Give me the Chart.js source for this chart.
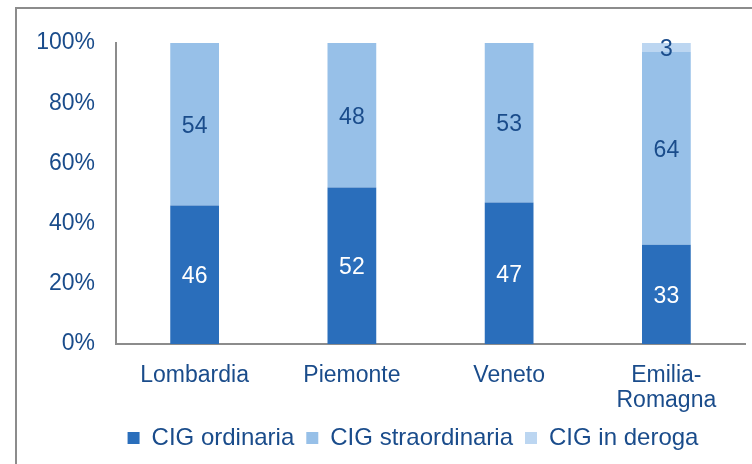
<!DOCTYPE html>
<html>
<head>
<meta charset="utf-8">
<script src="https://cdn.jsdelivr.net/npm/chart.js@4/dist/chart.umd.min.js"></script>
<style>
  html, body { margin: 0; padding: 0; background: #fff; overflow: hidden; width: 752px; height: 464px; }
  #frame { position: absolute; left: 15px; top: 7px; width: 800px; height: 500px;
           border-left: 2px solid #8c8c8c; border-top: 2px solid #8c8c8c; }
  #wrap { position: absolute; left: 0; top: 0; width: 820px; height: 464px; }
</style>
</head>
<body>
<div id="frame"></div>
<div id="wrap"><canvas id="chart"></canvas></div>
<script>
const regions = ["Lombardia", "Piemonte", "Veneto", ["Emilia-", "Romagna"]];
const cigOrdinaria = [46, 52, 47, 33];
const cigStraordinaria = [54, 48, 53, 64];
const cigDeroga = [0, 0, 0, 3];

const textBlue = '#1a4c8b';
const family = '"Liberation Sans", Arial, sans-serif';
const axisFont = { family: family, size: 23, lineHeight: 1.1 };
const legendFont = { family: family, size: 24 };

// value labels centred inside each stacked segment
const segmentLabels = {
  id: 'segmentLabels',
  afterDatasetsDraw(chart) {
    const ctx = chart.ctx;
    ctx.save();
    ctx.font = `${axisFont.size}px ${family}`;
    ctx.textAlign = 'center';
    ctx.textBaseline = 'middle';
    chart.data.datasets.forEach((ds, i) => {
      const meta = chart.getDatasetMeta(i);
      meta.data.forEach((bar, j) => {
        const v = ds.data[j];
        if (!v) return;
        ctx.fillStyle = i === 0 ? '#ffffff' : textBlue;
        ctx.fillText(String(v), bar.x, (bar.y + bar.base) / 2 + 2);
      });
    });
    ctx.restore();
  }
};

new Chart(document.getElementById('chart'), {
  type: 'bar',
  data: {
    labels: regions,
    datasets: [
      { label: 'CIG ordinaria', data: cigOrdinaria, backgroundColor: '#2a6ebb' },
      { label: 'CIG straordinaria', data: cigStraordinaria, backgroundColor: '#97c0e8' },
      { label: 'CIG in deroga', data: cigDeroga, backgroundColor: '#bcd6f1' }
    ]
  },
  options: {
    responsive: true,
    maintainAspectRatio: false,
    animation: false,
    datasets: { bar: { categoryPercentage: 1, barPercentage: 0.31 } },
    layout: { padding: { left: 16, right: 10, top: 43, bottom: 4 } },
    scales: {
      x: {
        stacked: true,
        grid: { display: false, drawTicks: false },
        border: { color: '#8c8c8c', width: 2 },
        ticks: { color: textBlue, font: axisFont, padding: 19, maxRotation: 0 },
        afterFit(scale) { scale.height = 70; }
      },
      y: {
        stacked: true,
        min: 0, max: 100,
        grid: { display: false, drawTicks: false },
        border: { color: '#8c8c8c', width: 2 },
        ticks: { stepSize: 20, color: textBlue, font: axisFont, padding: 21,
                 callback: v => v + '%' },
        afterFit(scale) { scale.width = 100; }
      },
      // empty right-hand spacer so the legend centres under the whole frame
      spacer: {
        type: 'linear',
        position: 'right',
        display: true,
        grid: { display: false, drawTicks: false },
        border: { display: false },
        ticks: { display: false },
        afterFit(scale) { scale.width = 65; }
      }
    },
    plugins: {
      legend: {
        position: 'bottom',
        labels: { color: textBlue, font: legendFont, boxWidth: 12, boxHeight: 12, padding: 12 }
      },
      tooltip: { enabled: false }
    }
  },
  plugins: [segmentLabels]
});
</script>
</body>
</html>
